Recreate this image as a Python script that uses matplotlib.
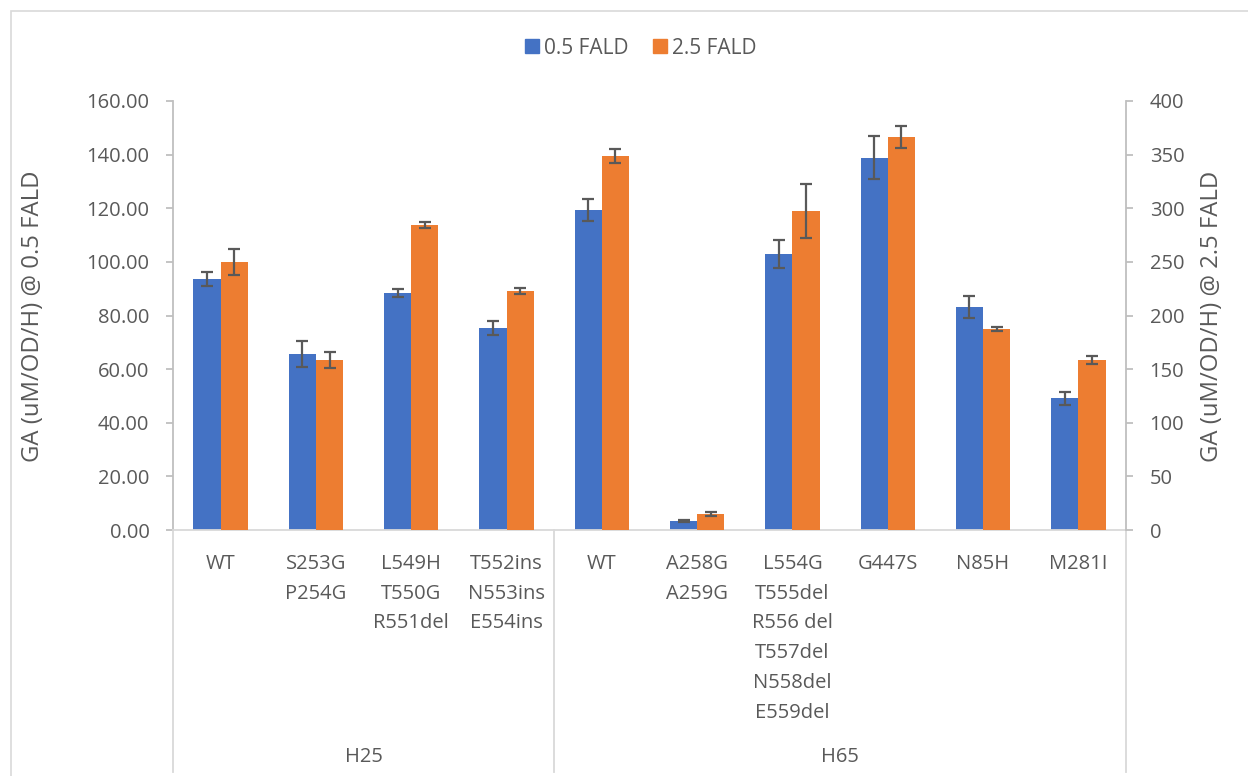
import matplotlib
matplotlib.use("Agg")
import matplotlib.pyplot as plt
import matplotlib.transforms as mtransforms
from matplotlib.patches import Rectangle
import numpy as np

plt.rcParams['font.family'] = ['Open Sans', 'DejaVu Sans']

# Variant labels (multi-line) and their group
variants = ["WT", "S253G\nP254G", "L549H\nT550G\nR551del", "T552ins\nN553ins\nE554ins",
            "WT", "A258G\nA259G",
            "L554G\nT555del\nR556 del\nT557del\nN558del\nE559del",
            "G447S", "N85H", "M281I"]
groups = ["H25", "H65"]
group_sizes = [4, 6]

# GA production at 0.5 FALD (left axis) and 2.5 FALD (right axis)
ga_05 = [93.6, 65.6, 88.4, 75.3, 119.4, 3.4, 103.0, 138.8, 83.2, 49.2]
err_05 = [2.5, 4.8, 1.5, 2.6, 4.1, 0.5, 5.2, 8.0, 4.0, 2.4]
ga_25 = [250.0, 158.5, 284.4, 222.8, 348.7, 15.0, 297.4, 366.4, 187.4, 158.5]
err_25 = [12.0, 7.5, 3.0, 3.0, 6.5, 1.5, 25.0, 10.0, 1.5, 4.0]

BLUE = "#4472C4"
ORANGE = "#ED7D31"
TXT = "#595959"
GRID = "#D9D9D9"
AXIS = "#BFBFBF"
FS = 14.5
FS_TITLE = 17.2

W, H = 1248, 776
fig = plt.figure(figsize=(W / 100, H / 100), dpi=100)
x0, x1, y0, y1 = 173, 1126, 530, 101
ax = fig.add_axes([x0 / W, 1 - y0 / H, (x1 - x0) / W, (y0 - y1) / H])
ax2 = ax.twinx()

x = np.arange(len(variants))
bw = 0.285
ax.bar(x - bw / 2, ga_05, bw, color=BLUE, zorder=2)
ax.errorbar(x - bw / 2, ga_05, yerr=err_05, fmt="none", ecolor=TXT,
            elinewidth=1.6, capsize=4.3, capthick=1.6, zorder=3)
ax2.bar(x + bw / 2, ga_25, bw, color=ORANGE, zorder=2)
ax2.errorbar(x + bw / 2, ga_25, yerr=err_25, fmt="none", ecolor=TXT,
             elinewidth=1.6, capsize=4.3, capthick=1.6, zorder=3)

ax.set_xlim(-0.5, len(variants) - 0.5)
ax.set_ylim(0, 160)
ax2.set_ylim(0, 400)
ax.set_yticks(np.arange(0, 161, 20))
ax.set_yticklabels([f"{v:.2f}" for v in np.arange(0, 161, 20)])
ax2.set_yticks(np.arange(0, 401, 50))

for a in (ax, ax2):
    for s in a.spines.values():
        s.set_visible(False)
ax.spines["bottom"].set_visible(True)
ax.spines["bottom"].set_color(GRID)
ax.spines["bottom"].set_linewidth(1.3)
ax.spines["left"].set_visible(True)
ax.spines["left"].set_color(AXIS)
ax.spines["left"].set_linewidth(1.3)
ax2.spines["right"].set_visible(True)
ax2.spines["right"].set_color(AXIS)
ax2.spines["right"].set_linewidth(1.3)

ax.tick_params(axis="y", length=5, width=1.3, color=AXIS, direction="out",
               labelsize=FS, labelcolor=TXT, pad=12)
ax2.tick_params(axis="y", length=5, width=1.3, color=AXIS, direction="out",
                labelsize=FS, labelcolor=TXT, pad=12)
ax.set_xticks(x)
ax.set_xticklabels(variants, fontsize=FS, color=TXT, linespacing=1.66, va="top")
ax.tick_params(axis="x", length=0, pad=17)

# Axis titles
fig.text(33 / W, 1 - 316 / H, "GA (uM/OD/H) @ 0.5 FALD", rotation=90,
         ha="center", va="center", fontsize=FS_TITLE, color=TXT)
fig.text(1212 / W, 1 - 316 / H, "GA (uM/OD/H) @ 2.5 FALD", rotation=90,
         ha="center", va="center", fontsize=FS_TITLE, color=TXT)

# Group separators and group labels below the category axis
trans = mtransforms.blended_transform_factory(ax.transData, ax.transAxes)
depth = -(H - 4 - y0) / (y0 - y1)
start = -0.5
for g, n in zip(groups, group_sizes):
    ax.plot([start, start], [0, depth], transform=trans, color=GRID, lw=1.3,
            clip_on=False)
    ax.text(start + n / 2, -(757 - y0) / (y0 - y1), g, transform=trans,
            ha="center", va="center", fontsize=FS, color=TXT)
    start += n
ax.plot([start, start], [0, depth], transform=trans, color=GRID, lw=1.3,
        clip_on=False)

# Legend
handles = [Rectangle((0, 0), 1, 1, color=BLUE), Rectangle((0, 0), 1, 1, color=ORANGE)]
fig.legend(handles, ["0.5 FALD", "2.5 FALD"], loc="center", ncol=2,
           bbox_to_anchor=(641 / W, 1 - 48 / H), frameon=False, fontsize=15,
           labelcolor=TXT, handlelength=0.65, handleheight=0.65, handletextpad=0.25,
           columnspacing=1.2)

# Chart area border
fig.add_artist(Rectangle((11 / W, -0.01), 1.02, 1 - 11 / H + 0.01,
                         transform=fig.transFigure, fill=False, ec=GRID, lw=1.2))

fig.savefig("out.png", dpi=100, facecolor="white")
